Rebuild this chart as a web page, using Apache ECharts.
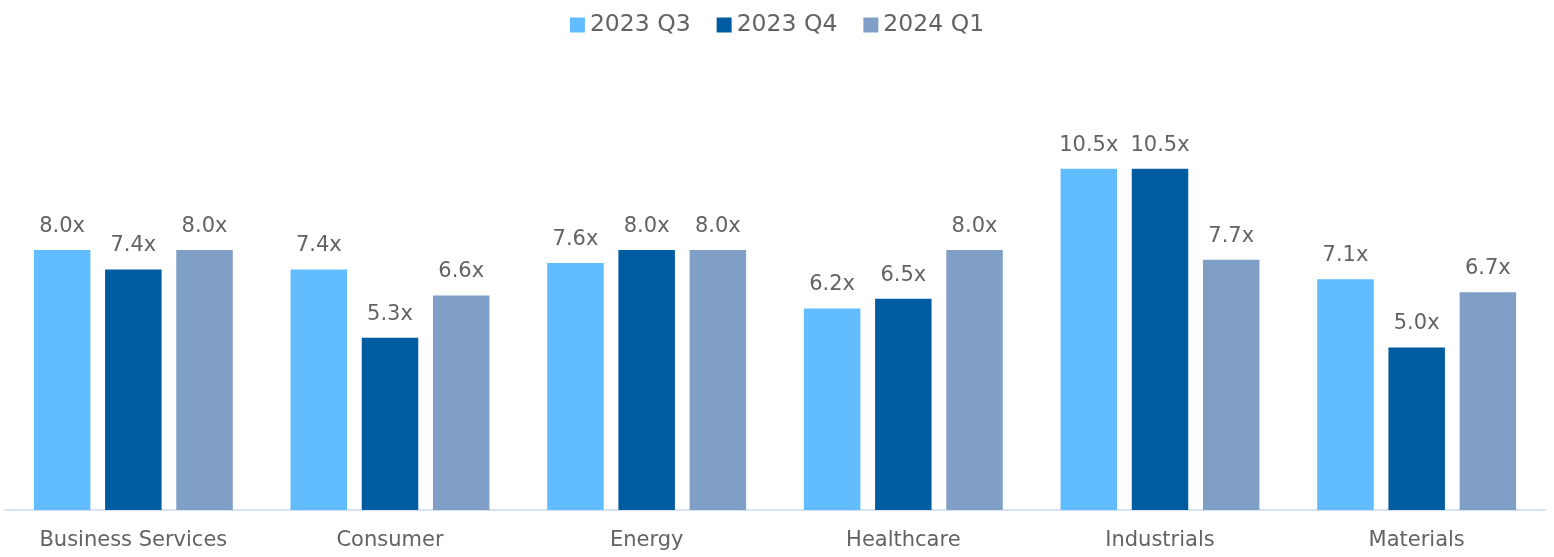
<!DOCTYPE html>
<html>
<head>
<meta charset="utf-8">
<script src="https://cdn.jsdelivr.net/npm/echarts@6/dist/echarts.min.js"></script>
<style>
    html, body { margin: 0; padding: 0; background: #fff; }
    #chart1 { width: 1554px; height: 557px; }
</style>
</head>
<body>
<div id="chart1"></div>
<script>
var categories = ['Business Services', 'Consumer', 'Energy', 'Healthcare', 'Industrials', 'Materials'];
var q3_2023 = [8.0, 7.4, 7.6, 6.2, 10.5, 7.1];
var q4_2023 = [7.4, 5.3, 8.0, 6.5, 10.5, 5.0];
var q1_2024 = [8.0, 6.6, 8.0, 8.0, 7.7, 6.7];

var fontName = '"DejaVu Sans", sans-serif';
var textColor = '#636363';

var chart1 = echarts.init(document.getElementById('chart1'));

function makeSeries(name, data, color) {
    return {
        name: name,
        type: 'bar',
        data: data,
        barCategoryGap: '22.5%',
        barGap: '26%',
        itemStyle: { color: color },
        label: {
            show: true,
            position: 'top',
            distance: 13,
            color: textColor,
            fontFamily: fontName,
            fontSize: 21,
            formatter: function (p) {
                return p.value.toFixed(1) + 'x';
            }
        }
    };
}

var option = {
    animation: false,
    textStyle: { fontFamily: fontName },
    legend: {
        top: 8,
        left: 'center',
        itemWidth: 15,
        itemHeight: 15,
        itemGap: 26,
        icon: 'rect',
        textStyle: { color: textColor, fontSize: 23.5, fontFamily: fontName }
    },
    grid: {
        left: 5,
        right: 9,
        top: 55,
        bottom: 47,
        containLabel: false
    },
    xAxis: {
        type: 'category',
        data: categories,
        axisLine: { lineStyle: { color: '#D9E2F3', width: 2 } },
        axisTick: { show: false },
        axisLabel: {
            color: textColor,
            fontSize: 21,
            fontFamily: fontName,
            margin: 20,
            interval: 0
        }
    },
    yAxis: {
        type: 'value',
        min: 0,
        max: 14,
        show: false,
        splitLine: { show: false }
    },
    series: [
        makeSeries('2023 Q3', q3_2023, '#61BDFF'),
        makeSeries('2023 Q4', q4_2023, '#005CA0'),
        makeSeries('2024 Q1', q1_2024, '#7F9FC6')
    ]
};
chart1.setOption(option, true);
</script>
</body>
</html>
